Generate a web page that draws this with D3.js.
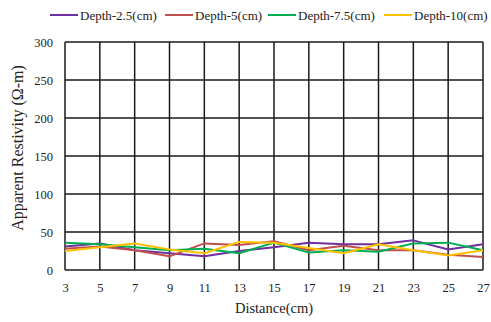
<!DOCTYPE html>
<html>
<head>
<meta charset="utf-8">
<script src="https://cdn.jsdelivr.net/npm/d3@7/dist/d3.min.js"></script>
<style>
  html, body { margin: 0; padding: 0; background: #fff; }
  svg { display: block; }
  svg text { font-family: "Liberation Serif", "Times New Roman", Times, serif; }
</style>
</head>
<body>
<div id="chart"></div>
<script>
// Sampling positions along the profile (cm)
const distances = [3, 5, 7, 9, 11, 13, 15, 17, 19, 21, 23, 25, 27];

// Apparent resistivity at each depth (Ω-m)
const depth25 = [31, 35, 26, 22, 18, 25, 30, 36, 34, 34, 39, 27, 34];
const depth5  = [28, 31, 26, 18, 35, 33, 38, 26, 32, 26, 26, 20, 17];
const depth75 = [36, 34, 30, 26, 28, 22, 36, 23, 26, 24, 35, 36, 26];
const depth10 = [25, 30, 35, 27, 22, 37, 36, 29, 22, 34, 26, 19, 26];

const seriesNames  = ["Depth-2.5(cm)", "Depth-5(cm)", "Depth-7.5(cm)", "Depth-10(cm)"];
const seriesColors = ["#7030A0", "#C0504D", "#00B050", "#FFC000"];
const seriesValues = [depth25, depth5, depth75, depth10];

const yTicks = [0, 50, 100, 150, 200, 250, 300];

const W = 491, H = 322;
const margin = { left: 65, right: 8, top: 42, bottom: 52 };

const svg = d3.select("#chart").append("svg")
  .attr("width", W).attr("height", H);

const x = d3.scaleLinear()
  .domain([d3.min(distances), d3.max(distances)])
  .range([margin.left, W - margin.right]);
const y = d3.scaleLinear()
  .domain([0, 300])
  .range([H - margin.bottom, margin.top]);

// Grid
const grid = svg.append("g").attr("stroke", "#1a1a1a").attr("stroke-width", 1.5);
grid.selectAll("line.v").data(distances).join("line")
  .attr("x1", d => x(d)).attr("x2", d => x(d))
  .attr("y1", y(0)).attr("y2", y(300));
grid.selectAll("line.h").data(yTicks).join("line")
  .attr("x1", x(3)).attr("x2", x(27))
  .attr("y1", d => y(d)).attr("y2", d => y(d));

// Axes (labels only)
const xAxis = svg.append("g")
  .attr("transform", `translate(0,${y(0)})`)
  .call(d3.axisBottom(x).tickValues(distances).tickSize(0).tickPadding(13));
xAxis.select(".domain").remove();
xAxis.attr("font-family", null);
xAxis.selectAll("text")
  .attr("font-size", 12.5).attr("fill", "#222");

const yAxis = svg.append("g")
  .attr("transform", `translate(${x(3)},0)`)
  .call(d3.axisLeft(y).tickValues(yTicks).tickSize(0).tickPadding(12));
yAxis.select(".domain").remove();
yAxis.attr("font-family", null);
yAxis.selectAll("text")
  .attr("font-size", 12.5).attr("fill", "#222");

// Axis titles
svg.append("text")
  .attr("x", (x(3) + x(27)) / 2).attr("y", 313)
  .attr("text-anchor", "middle")
  .attr("font-size", 14.5).attr("fill", "#222")
  .text("Distance(cm)");

svg.append("text")
  .attr("transform", `translate(23,148) rotate(-90)`)
  .attr("text-anchor", "middle")
  .attr("font-size", 16).attr("fill", "#222")
  .text("Apparent Restivity (Ω-m)");

// Series lines
const line = d3.line()
  .x((d, i) => x(distances[i]))
  .y(d => y(d));

svg.append("g").selectAll("path").data(seriesValues).join("path")
  .attr("d", d => line(d))
  .attr("fill", "none")
  .attr("stroke", (d, i) => seriesColors[i])
  .attr("stroke-width", 2)
  .attr("stroke-linejoin", "round");

// Legend
const legendX = [50, 165, 268, 384];
const legend = svg.append("g").selectAll("g").data(seriesNames).join("g")
  .attr("transform", (d, i) => `translate(${legendX[i]},15)`);
legend.append("line")
  .attr("x1", 0).attr("x2", 28).attr("y1", 0).attr("y2", 0)
  .attr("stroke", (d, i) => seriesColors[i]).attr("stroke-width", 2);
legend.append("text")
  .attr("x", 30).attr("y", 4.5)
  .attr("font-size", 13).attr("fill", "#222")
  .text(d => d);
</script>
</body>
</html>
